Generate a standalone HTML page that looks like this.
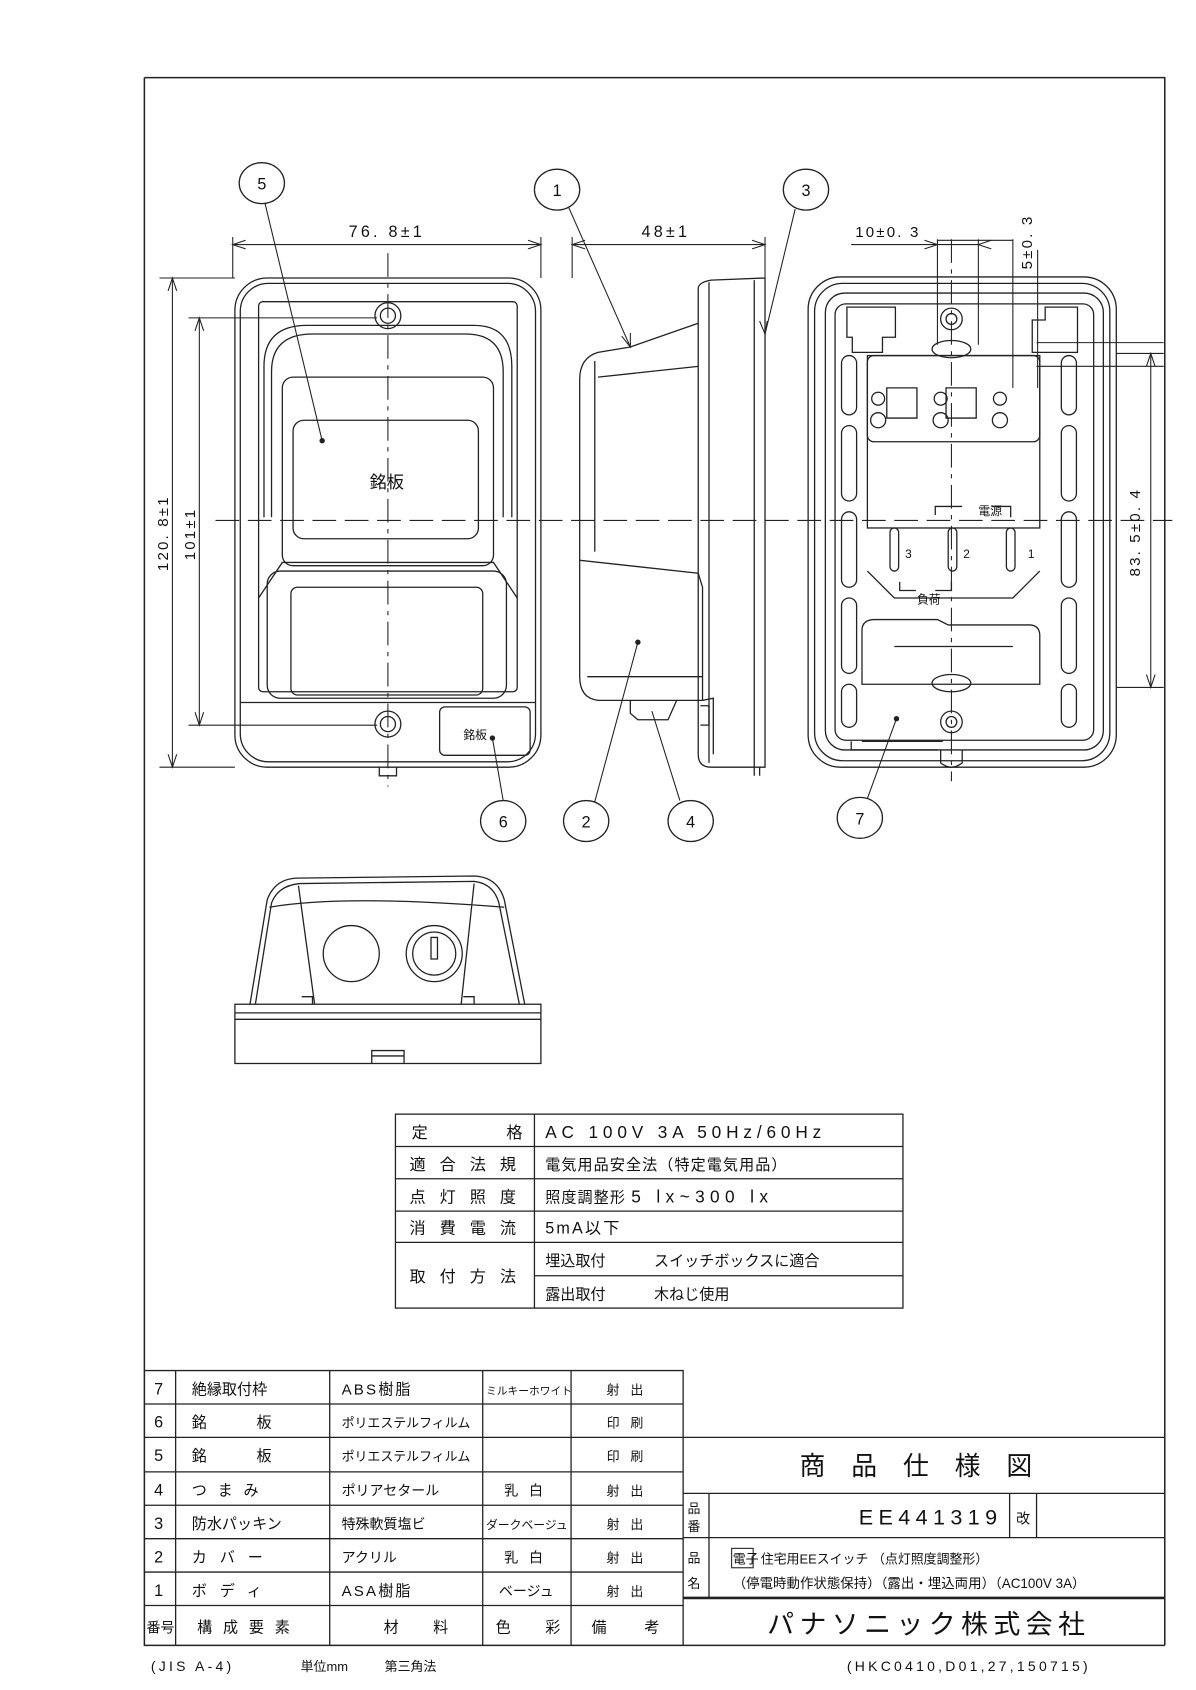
<!DOCTYPE html>
<html><head><meta charset="utf-8"><style>
html,body{margin:0;padding:0;background:#fff}
svg{display:block}
text{font-family:"Liberation Sans","Noto Sans CJK JP",sans-serif;fill:#111}
</style></head><body>
<svg width="1196" height="1690" viewBox="0 0 1196 1690" xmlns="http://www.w3.org/2000/svg">
<g transform="scale(1.0775)">
<g fill="none" stroke="#222" stroke-width="1.2">
<path d="M134 72 H1081 V1527 M134 72 V1527 H1081" stroke-width="1.4"/>
<path d="M200 483 H1088" stroke-dasharray="22,8" stroke-width="1"/>
<path d="M360 235 V730" stroke-dasharray="22,6,4,6" stroke-width="1"/>
<path d="M883 222 V725" stroke-dasharray="22,6,4,6" stroke-width="1"/>

<rect x="218" y="258" width="284" height="454" rx="30"/>
<rect x="223" y="263" width="274" height="444" rx="26"/>
<rect x="240" y="280" width="240" height="362" rx="4"/>
<path d="M245 480 V340 Q245 302 285 302 H440 Q475 302 475 340 V480"/>
<path d="M252 480 V345 Q252 310 290 310 H432 Q467 310 467 345 V480"/>
<rect x="262" y="350" width="196" height="175" rx="10"/>
<rect x="272" y="390" width="172" height="110" rx="10"/>
<path d="M240 555 L262 522 H458 L480 555"/>
<rect x="248" y="530" width="222" height="118" rx="12"/>
<rect x="270" y="545" width="178" height="100" rx="6"/>
<path d="M223 652 H497"/>
<rect x="408" y="656" width="84" height="45" rx="5"/>
<circle cx="360" cy="293" r="12"/><circle cx="360" cy="293" r="7"/>
<circle cx="360" cy="672" r="12"/><circle cx="360" cy="672" r="7"/>
<path d="M352 712 v8 h16 v-8"/>
<path d="M216 220 V258 M502 220 V258 M216 227 H502" stroke-width="1"/>
<path d="M228 223 L216 227 L228 231 M490 223 L502 227 L490 231" stroke-width="1"/>
<path d="M148 258 H218 M148 712 H218 M160 258 V712" stroke-width="1"/>
<path d="M156 270 L160 258 L164 270 M156 700 L160 712 L164 700" stroke-width="1"/>
<path d="M175 295 H350 M175 673 H350 M185 295 V673" stroke-width="1"/>
<path d="M181 307 L185 295 L189 307 M181 661 L185 673 L189 661" stroke-width="1"/>

<path d="M648 268 Q648 262 660 260 L710 258 V712 H660 Q648 712 648 700 Z"/>
<path d="M658 262 V708 M700 260 V712"/>
<path d="M648 300 L585 322 L555 327 Q538 332 538 352 V520 L648 532"/>
<path d="M552 335 V512 M555 350 L648 340"/>
<path d="M538 520 V628 Q538 648 555 650 H652 V545 L648 532"/>
<path d="M545 628 H652"/>
<path d="M585 650 V662 L592 668 H620 L628 650"/>
<path d="M652 650 L662 648 V700 M650 655 h8 v18 h-8"/>
<path d="M700 712 v8 M705 712 v8"/>
<path d="M531 220 V258 M710 220 V258 M531 227 H710" stroke-width="1"/>
<path d="M543 223 L531 227 L543 231 M698 223 L710 227 L698 231" stroke-width="1"/>

<rect x="750" y="257" width="286" height="455" rx="30"/>
<rect x="756" y="263" width="274" height="443" rx="26"/>
<rect x="766" y="272" width="258" height="424" rx="18"/>
<rect x="775" y="282" width="240" height="405" rx="10"/>
<path d="M786 285 h45 v28 h-12 v14 h-28 v-14 h-5 z"/>
<path d="M1000 285 h-30 v12 h-12 v30 h42 z"/>
<rect x="805" y="330" width="160" height="80" rx="6"/>
<rect x="805" y="330" width="160" height="160"/>
<path d="M805 530 L830 555 H940 L965 530"/>
<path d="M800 585 Q800 575 812 575 H870 L880 580 H955 Q965 580 965 590 V635 H800 Z"/>
<path d="M830 600 H940"/>
<ellipse cx="883" cy="324" rx="18" ry="8"/>
<ellipse cx="883" cy="634" rx="18" ry="8"/>
<circle cx="883" cy="296" r="10"/><circle cx="883" cy="296" r="5"/>
<circle cx="883" cy="670" r="10"/><circle cx="883" cy="670" r="5"/>
<path d="M873 696 v12 q10 8 20 0 v-12"/>
<circle cx="815" cy="390" r="7"/><circle cx="873" cy="390" r="7"/><circle cx="928" cy="390" r="7"/>
<circle cx="815" cy="370" r="6"/><circle cx="873" cy="370" r="6"/><circle cx="928" cy="370" r="6"/>
<path d="M823 360 h28 v28 h-28 z M878 360 h28 v28 h-28 z"/>
<rect x="826" y="490" width="8" height="40" rx="4"/>
<rect x="880" y="490" width="8" height="40" rx="4"/>
<rect x="934" y="490" width="8" height="40" rx="4"/>
<rect x="781" y="330" width="14" height="55" rx="7"/><rect x="781" y="395" width="14" height="70" rx="7"/>
<rect x="781" y="475" width="14" height="70" rx="7"/><rect x="781" y="555" width="14" height="70" rx="7"/>
<rect x="781" y="635" width="14" height="40" rx="7"/>
<rect x="985" y="330" width="14" height="55" rx="7"/><rect x="985" y="395" width="14" height="70" rx="7"/>
<rect x="985" y="475" width="14" height="70" rx="7"/><rect x="985" y="555" width="14" height="70" rx="7"/>
<rect x="985" y="635" width="14" height="40" rx="7"/>
<path d="M893 470 H868 V478 M920 470 H938 V480 M835 540 V548 H850 M868 548 H883 V540"/>
<path d="M800 688 H875 M790 688 v8 h80"/>
<path d="M940 360 V222 M963 232 V360 M940 223 H870 M870 222 V320 M908 222 V320 M790 227 H908" stroke-width="1"/>
<path d="M858 223 L870 227 L858 231 M920 223 L908 227 L920 231" stroke-width="1"/>
<path d="M962 318 H1080 M962 340 H1080" stroke-width="1"/>
<path d="M1036 328 H1080 M1036 638 H1080 M1068 328 V638" stroke-width="1"/>
<path d="M1064 340 L1068 328 L1072 340 M1064 626 L1068 638 L1072 626" stroke-width="1"/>

<ellipse cx="243" cy="170" rx="21" ry="19"/>
<ellipse cx="517" cy="176" rx="21" ry="19"/>
<ellipse cx="748" cy="176" rx="21" ry="19"/>
<ellipse cx="467" cy="762" rx="21" ry="19"/>
<ellipse cx="544" cy="762" rx="21" ry="19"/>
<ellipse cx="641" cy="762" rx="21" ry="19"/>
<ellipse cx="798" cy="759" rx="21" ry="19"/>
<path d="M246 189 L299 409 M528 193 L585 322 M738 194 L710 310 M467 743 L457 685 M552 744 L592 596 M631 743 L605 660 M805 741 L832 667" stroke-width="1"/>
<path d="M577 312 L585 322 L585 309 M712 298 L710 310 L705 298" stroke-width="1"/>

<path d="M232 932 L248 835 Q255 816 275 815 L440 813 Q462 814 468 835 L487 932"/>
<path d="M237 932 L252 838 Q258 822 278 820 L440 818 Q458 820 463 838 L482 932"/>
<path d="M250 842 Q320 830 468 842 M277 822 L292 932 M440 820 L428 932"/>
<circle cx="326" cy="885" r="26"/>
<circle cx="403" cy="885" r="26"/><circle cx="403" cy="885" r="20"/><path d="M400 870 V890 h6 V870 z"/>
<rect x="218" y="932" width="284" height="55"/>
<path d="M218 940 H502 M218 946 H502"/>
<path d="M345 987 V975 h30 v12 M345 980 h30"/>
<path d="M280 925 h10 v7 M430 925 h10 v7"/>

<rect x="367" y="1034" width="471" height="180"/>
<path d="M496 1034 V1214 M367 1064 H838 M367 1094 H838 M367 1124 H838 M367 1153 H838 M496 1184 H838"/>

<path d="M134 1272 H634 V1527 M134 1303 H634 M134 1334 H1081 M134 1366 H634 M134 1397 H634 M134 1428 H634 M134 1459 H634 M134 1490 H634"/>
<path d="M163 1272 V1527 M306 1272 V1527 M448 1272 V1527 M530 1272 V1527"/>
<path d="M634 1386 H1081 M634 1427 H1081 M658 1386 V1483 M937 1386 V1427 M962 1386 V1427"/>
<path d="M634 1483 H1081" stroke-width="2.4"/>
<rect x="679" y="1437" width="20" height="18" stroke-width="1"/>
</g>
<g fill="#222"><circle cx="299" cy="409" r="2.5"/><circle cx="592" cy="596" r="2.5"/><circle cx="457" cy="685" r="2.5"/><circle cx="832" cy="667" r="2.5"/></g>

<g font-size="17">
<text x="243" y="176" text-anchor="middle" font-size="15">5</text>
<text x="517" y="182" text-anchor="middle" font-size="15">1</text>
<text x="748" y="182" text-anchor="middle" font-size="15">3</text>
<text x="467" y="768" text-anchor="middle" font-size="15">6</text>
<text x="544" y="768" text-anchor="middle" font-size="15">2</text>
<text x="641" y="768" text-anchor="middle" font-size="15">4</text>
<text x="798" y="765" text-anchor="middle" font-size="15">7</text>
<text x="359" y="220" text-anchor="middle" font-size="15" letter-spacing="3">76. 8±1</text>
<text x="618" y="220" text-anchor="middle" font-size="15" letter-spacing="3">48±1</text>
<text x="824" y="220" text-anchor="middle" font-size="14" letter-spacing="2">10±0. 3</text>
<text transform="translate(958,250) rotate(-90)" font-size="14" letter-spacing="2">5±0. 3</text>
<text transform="translate(1058,535) rotate(-90)" font-size="14" letter-spacing="2">83. 5±0. 4</text>
<text transform="translate(156,530) rotate(-90)" font-size="14" letter-spacing="2">120. 8±1</text>
<text transform="translate(181,520) rotate(-90)" font-size="14" letter-spacing="2">101±1</text>
<text x="359" y="453" text-anchor="middle" font-size="16">銘板</text>
<text x="441" y="686" text-anchor="middle" font-size="11">銘板</text>
<text x="919" y="478" text-anchor="middle" font-size="11">電源</text>
<text x="862" y="560" text-anchor="middle" font-size="11">負荷</text>
<text x="840" y="518" font-size="11">3</text><text x="894" y="518" font-size="11">2</text><text x="954" y="518" font-size="11">1</text>

<text x="382" y="1056" font-size="15">定</text><text x="470" y="1056" font-size="15">格</text>
<text x="380" y="1086" font-size="15" letter-spacing="13">適合法規</text>
<text x="380" y="1116" font-size="15" letter-spacing="13">点灯照度</text>
<text x="380" y="1145" font-size="15" letter-spacing="13">消費電流</text>
<text x="380" y="1190" font-size="15" letter-spacing="13">取付方法</text>
<text x="506" y="1056" font-size="16" letter-spacing="4.5">AC 100V 3A  50Hz/60Hz</text>
<text x="506" y="1086" font-size="14" letter-spacing="1">電気用品安全法（特定電気用品）</text>
<text x="506" y="1116" font-size="14" letter-spacing="1">照度調整形 <tspan font-size="16" letter-spacing="5">5 lx~300 lx</tspan></text>
<text x="506" y="1145" font-size="15" letter-spacing="2">5mA以下</text>
<text x="506" y="1175" font-size="14">埋込取付</text><text x="607" y="1175" font-size="14">スイッチボックスに適合</text>
<text x="506" y="1206" font-size="14">露出取付</text><text x="607" y="1206" font-size="14">木ねじ使用</text>

<g font-size="15">
<text x="143" y="1294">7</text><text x="143" y="1325">6</text><text x="143" y="1356">5</text><text x="143" y="1388">4</text><text x="143" y="1419">3</text><text x="143" y="1450">2</text><text x="143" y="1481">1</text>
<text x="178" y="1294" font-size="14">絶縁取付枠</text>
<text x="178" y="1325" font-size="14">銘</text><text x="238" y="1325" font-size="14">板</text>
<text x="178" y="1356" font-size="14">銘</text><text x="238" y="1356" font-size="14">板</text>
<text x="178" y="1388" font-size="14" letter-spacing="10">つまみ</text>
<text x="178" y="1419" font-size="14">防水パッキン</text>
<text x="178" y="1450" font-size="14" letter-spacing="12">カバー</text>
<text x="178" y="1481" font-size="14" letter-spacing="12">ボディ</text>
<text x="317" y="1294" font-size="14" letter-spacing="2">ABS樹脂</text>
<text x="317" y="1325" font-size="12">ポリエステルフィルム</text>
<text x="317" y="1356" font-size="12">ポリエステルフィルム</text>
<text x="317" y="1388" font-size="13">ポリアセタール</text>
<text x="317" y="1419" font-size="13">特殊軟質塩ビ</text>
<text x="317" y="1450" font-size="13">アクリル</text>
<text x="317" y="1481" font-size="14" letter-spacing="2">ASA樹脂</text>
<text x="451" y="1294" font-size="10">ミルキーホワイト</text>
<text x="468" y="1388" font-size="13" letter-spacing="10">乳白</text>
<text x="451" y="1419" font-size="11">ダークベージュ</text>
<text x="468" y="1450" font-size="13" letter-spacing="10">乳白</text>
<text x="463" y="1481" font-size="13">ベージュ</text>
<text x="563" y="1294" font-size="12" letter-spacing="10">射出</text>
<text x="563" y="1325" font-size="12" letter-spacing="10">印刷</text>
<text x="563" y="1356" font-size="12" letter-spacing="10">印刷</text>
<text x="563" y="1388" font-size="12" letter-spacing="10">射出</text>
<text x="563" y="1419" font-size="12" letter-spacing="10">射出</text>
<text x="563" y="1450" font-size="12" letter-spacing="10">射出</text>
<text x="563" y="1481" font-size="12" letter-spacing="10">射出</text>
<text x="136" y="1515" font-size="13">番号</text>
<text x="183" y="1515" font-size="14" letter-spacing="10">構成要素</text>
<text x="356" y="1515" font-size="14">材</text><text x="402" y="1515" font-size="14">料</text>
<text x="460" y="1515" font-size="14">色</text><text x="506" y="1515" font-size="14">彩</text>
<text x="549" y="1515" font-size="14">備</text><text x="598" y="1515" font-size="14">考</text>
</g>
<text x="742" y="1369" font-size="24" letter-spacing="24">商品仕様図</text>
<text x="638" y="1404" font-size="12">品</text><text x="638" y="1421" font-size="12">番</text>
<text x="797" y="1415" font-size="20" letter-spacing="5">EE441319</text>
<text x="943" y="1414" font-size="13">改</text>
<text x="638" y="1450" font-size="12">品</text><text x="638" y="1474" font-size="12">名</text>
<text x="680" y="1451" font-size="12">電子</text>
<text x="706" y="1451" font-size="12">住宅用EEスイッチ （点灯照度調整形）</text>
<text x="680" y="1474" font-size="12.5">（停電時動作状態保持）（露出・埋込両用）（AC100V 3A）</text>
<text x="712" y="1516" font-size="25" letter-spacing="5">パナソニック株式会社</text>
<text x="140" y="1551" font-size="13" letter-spacing="3">(JIS A-4)</text>
<text x="279" y="1551" font-size="12">単位mm</text>
<text x="357" y="1551" font-size="12">第三角法</text>
<text x="786" y="1551" font-size="13" letter-spacing="3">(HKC0410,D01,27,150715)</text>
</g>
</g>
</svg>
</body></html>
